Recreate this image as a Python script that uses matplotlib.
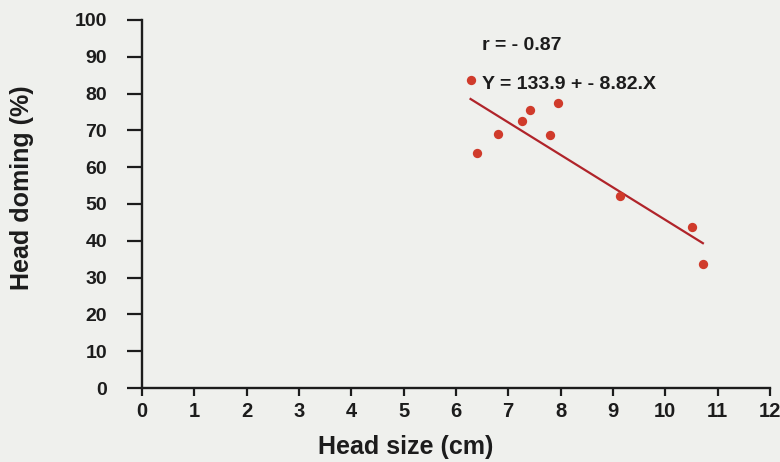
import matplotlib.pyplot as plt
import numpy as np

plt.rcParams['font.family'] = ['Liberation Sans', 'DejaVu Sans']
plt.rcParams['font.weight'] = 'bold'

# values
head_size = [6.28, 6.41, 6.80, 7.26, 7.41, 7.80, 7.96, 9.14, 10.51, 10.72]
head_doming = [83.7, 63.9, 68.9, 72.4, 75.5, 68.8, 77.4, 52.2, 43.8, 33.6]
intercept, slope = 133.9, -8.82
r_value = -0.87
x_ticks = list(range(0, 13))
y_ticks = list(range(0, 101, 10))

bg = '#eff0ed'
ink = '#1c1c1c'
fig = plt.figure(figsize=(7.8, 4.62), dpi=100, facecolor=bg)
ax = fig.add_axes([0.182, 0.160, 0.805, 0.797], facecolor=bg)

ax.scatter(head_size, head_doming, s=45, color='#d03b2b', zorder=3,
           linewidths=0)
fit_x = np.array([min(head_size), max(head_size)])
ax.plot(fit_x, intercept + slope * fit_x, color='#b0242a', lw=1.6, zorder=2)

# annotation text (left edge ~x=482px)
ax.text(6.5, 93.0, f"r = - {abs(r_value):.2f}", fontsize=14,
        fontweight='bold', va='center', ha='left', color=ink)
ax.text(6.5, 82.4, f"Y = {intercept} + - {abs(slope):.2f}.X", fontsize=14,
        fontweight='bold', va='center', ha='left', color=ink)

ax.set_xlim(0, 12)
ax.set_ylim(0, 100)
ax.set_xticks(x_ticks)
ax.set_yticks(y_ticks)
for s in ['top', 'right']:
    ax.spines[s].set_visible(False)
for s in ['left', 'bottom']:
    ax.spines[s].set_linewidth(1.7)
    ax.spines[s].set_color(ink)
ax.tick_params(axis='y', length=11, width=1.6, labelsize=14, pad=14,
               colors=ink)
ax.tick_params(axis='x', length=6, width=1.6, labelsize=14.5, pad=4,
               colors=ink)
for lab in ax.get_xticklabels() + ax.get_yticklabels():
    lab.set_fontweight('bold')

ax.set_xlabel("Head size (cm)", fontsize=18, fontweight='bold', color=ink,
              va='center')
ax.xaxis.set_label_coords(0.42, -0.160)
ax.set_ylabel("Head doming (%)", fontsize=18, fontweight='bold', color=ink,
              va='center')
ax.yaxis.set_label_coords(-0.191, 0.543)

fig.savefig('out.png', dpi=100, facecolor=bg)
